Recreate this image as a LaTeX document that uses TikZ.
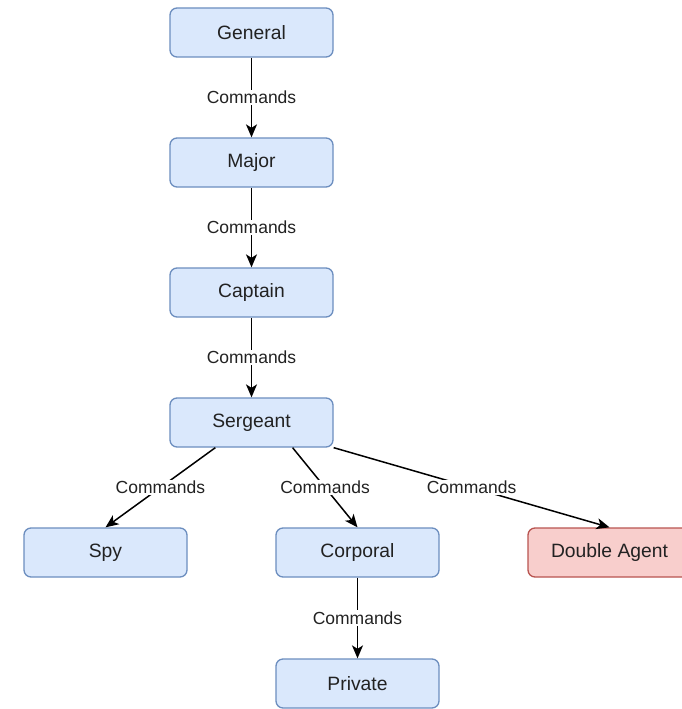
\documentclass[tikz,border=0pt]{standalone}
\usepackage{fontspec}
\setmainfont{Liberation Sans}
\usetikzlibrary{arrows.meta,calc}
\definecolor{boxfill}{HTML}{DAE8FC}
\definecolor{boxline}{HTML}{6C8EBF}
\definecolor{redfill}{HTML}{F8CECC}
\definecolor{redline}{HTML}{B85450}
\definecolor{ink}{HTML}{222222}
\tikzset{
  rank/.style={draw=boxline, fill=boxfill, line width=1.3pt, rounded corners=7pt,
    minimum width=163pt, minimum height=49pt, inner sep=0pt,
    text=ink, font=\fontsize{19.3}{21}\selectfont},
  agent/.style={rank, draw=redline, fill=redfill},
  cmd/.style={draw=black, line width=1.5pt, -{Stealth[length=13pt,width=11pt,inset=3.5pt]}},
  cmdlabel/.style={fill=white, inner sep=1.5pt, text=ink, font=\fontsize{17.5}{19}\selectfont}
}
\begin{document}
\begin{tikzpicture}[x=1pt,y=-1pt]
\useasboundingbox (0,0) rectangle (682,709);

\node[rank] (general)  at (251.5,32.5)  {General};
\node[rank] (major)    at (251.5,162.5) {Major};
\node[rank] (captain)  at (251.5,292.5) {Captain};
\node[rank] (sergeant) at (251.5,422.5) {Sergeant};
\node[rank] (spy)      at (105.5,552.5) {Spy};
\node[rank] (corporal) at (357.5,552.5) {Corporal};
\node[agent] (double)  at (609.5,552.5) {Double Agent};
\node[rank] (private)  at (357.5,683.5) {Private};

\draw[cmd] (general) -- node[cmdlabel] {Commands} (major);
\draw[cmd] (major) -- node[cmdlabel] {Commands} (captain);
\draw[cmd] (captain) -- node[cmdlabel] {Commands} (sergeant);
\draw[cmd] ($(sergeant.south west)!0.28!(sergeant.south east)$) -- node[cmdlabel] {Commands} (spy.north);
\draw[cmd] ($(sergeant.south west)!0.75!(sergeant.south east)$) -- node[cmdlabel] {Commands} (corporal.north);
\draw[cmd] (sergeant.south east) -- node[cmdlabel] {Commands} (double.north);
\draw[cmd] (corporal) -- node[cmdlabel] {Commands} (private);
\end{tikzpicture}
\end{document}
